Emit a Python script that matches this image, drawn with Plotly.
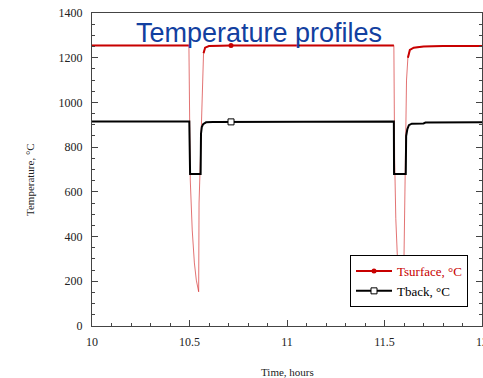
import plotly.graph_objects as go

# ---- data ----
t_surface = [10.0, 10.2, 10.4, 10.497, 10.504, 10.514, 10.525, 10.535, 10.547,
             10.548, 10.549, 10.556, 10.560, 10.566, 10.572, 10.580, 10.600, 10.713,
             10.9, 11.2, 11.4, 11.548, 11.552, 11.558, 11.566, 11.575, 11.585,
             11.593, 11.600, 11.604, 11.608, 11.613, 11.620, 11.630, 11.650, 11.700,
             11.800, 12.0]
T_surface = [1255, 1256, 1255, 1255, 653, 429, 282, 205, 153,
             400, 550, 750, 877, 1100, 1220, 1245, 1252, 1255,
             1255, 1255, 1255, 1255, 750, 480, 310, 200, 160,
             210, 310, 600, 900, 1100, 1200, 1235, 1245, 1250,
             1252, 1252]

t_back = [10.0, 10.3, 10.499, 10.503, 10.557, 10.559, 10.563, 10.570, 10.585,
          10.620, 10.713, 11.0, 11.3, 11.548, 11.549, 11.609, 11.611, 11.617,
          11.625, 11.640, 11.700, 11.710, 12.0]
T_back = [915, 915, 915, 680, 680, 860, 890, 903, 911,
          913, 913, 914, 915, 915, 680, 680, 850, 880,
          898, 905, 906, 910, 911]

marker_t = [10.713]
marker_surface = [1255]
marker_back = [913]

series_names = ["Tsurface, °C", "Tback, °C"]
title_text = "Temperature profiles"
x_title = "Time, hours"
y_title = "Temperature, °C"
x_tickvals = [10, 10.5, 11, 11.5, 12]
x_ticktext = ["10", "10.5", "11", "11.5", "12"]

RED = "#c80000"
BLACK = "#000000"
SERIF = "Liberation Serif, Times New Roman, serif"

fig = go.Figure()

# thin full red trace (dips appear thin / faint)
fig.add_trace(go.Scatter(x=t_surface, y=T_surface, mode="lines",
                         line=dict(color="rgba(210,40,40,0.65)", width=1),
                         showlegend=False, hoverinfo="skip"))
# thicker plateau segments
T_plateau = [v if v >= 1200 else None for v in T_surface]
fig.add_trace(go.Scatter(x=t_surface, y=T_plateau, mode="lines",
                         line=dict(color=RED, width=2), connectgaps=False,
                         showlegend=False, hoverinfo="skip"))
fig.add_trace(go.Scatter(x=t_back, y=T_back, mode="lines",
                         line=dict(color=BLACK, width=2),
                         showlegend=False, hoverinfo="skip"))
# markers
fig.add_trace(go.Scatter(x=marker_t, y=marker_surface, mode="markers",
                         marker=dict(color=RED, size=5, symbol="circle"),
                         showlegend=False, hoverinfo="skip"))
fig.add_trace(go.Scatter(x=marker_t, y=marker_back, mode="markers",
                         marker=dict(color="white", size=6, symbol="square",
                                     line=dict(color=BLACK, width=1)),
                         showlegend=False, hoverinfo="skip"))
# legend entries
fig.add_trace(go.Scatter(x=[None], y=[None], mode="lines+markers",
                         name='<span style="color:%s">%s</span>' % (RED, series_names[0]),
                         line=dict(color=RED, width=2),
                         marker=dict(color=RED, size=5, symbol="circle")))
fig.add_trace(go.Scatter(x=[None], y=[None], mode="lines+markers",
                         name=series_names[1],
                         line=dict(color=BLACK, width=2),
                         marker=dict(color="white", size=6, symbol="square",
                                     line=dict(color=BLACK, width=1))))

plot_w = 483 - 92 - 1
plot_h = 378 - 13 - 52

fig.update_layout(
    width=483, height=378,
    margin=dict(l=92, r=1, t=13, b=52, autoexpand=False),
    paper_bgcolor="white", plot_bgcolor="white",
    font=dict(family=SERIF, size=12, color="#222"),
    legend=dict(x=(350 - 92) / plot_w, y=(326 - 255) / plot_h, xanchor="left", yanchor="top",
                bgcolor="white", bordercolor="black", borderwidth=1,
                font=dict(family=SERIF, size=13, color="black"),
                tracegroupgap=0, itemwidth=36),
)

fig.update_xaxes(range=[10, 12], tickvals=x_tickvals, ticktext=x_ticktext,
                 ticks="inside", ticklen=6, tickcolor="#444", tickwidth=1,
                 minor=dict(dtick=0.1, ticks="inside", ticklen=3, tickcolor="#444"),
                 showline=True, linecolor="#444", linewidth=1, mirror=True,
                 showgrid=False, zeroline=False, ticklabelstandoff=5,
                 ticklabeloverflow="allow", automargin=False,
                 tickfont=dict(family=SERIF, size=12, color="#222"))
fig.update_yaxes(range=[0, 1400], dtick=200,
                 ticks="inside", ticklen=6, tickcolor="#444", tickwidth=1,
                 minor=dict(dtick=50, ticks="inside", ticklen=3, tickcolor="#444"),
                 showline=True, linecolor="#444", linewidth=1, mirror="ticks",
                 showgrid=False, zeroline=False, ticklabelstandoff=6, automargin=False,
                 tickfont=dict(family=SERIF, size=12, color="#222"))

fig.add_annotation(text=title_text, xref="paper", yref="paper",
                   x=(259 - 92) / plot_w, y=(326 - 33) / plot_h,
                   xanchor="center", yanchor="middle", showarrow=False,
                   font=dict(family="Liberation Sans, Arial", size=27, color="#1240a0"))
fig.add_annotation(text=y_title, xref="paper", yref="paper",
                   x=0, y=(326 - 180) / plot_h, xshift=-62, textangle=-90,
                   xanchor="center", yanchor="middle", showarrow=False,
                   font=dict(family=SERIF, size=11, color="#222"))
fig.add_annotation(text=x_title, xref="paper", yref="paper",
                   x=0.5, y=0, yshift=-46,
                   xanchor="center", yanchor="middle", showarrow=False,
                   font=dict(family=SERIF, size=11, color="#222"))

fig.write_html("out.html")
